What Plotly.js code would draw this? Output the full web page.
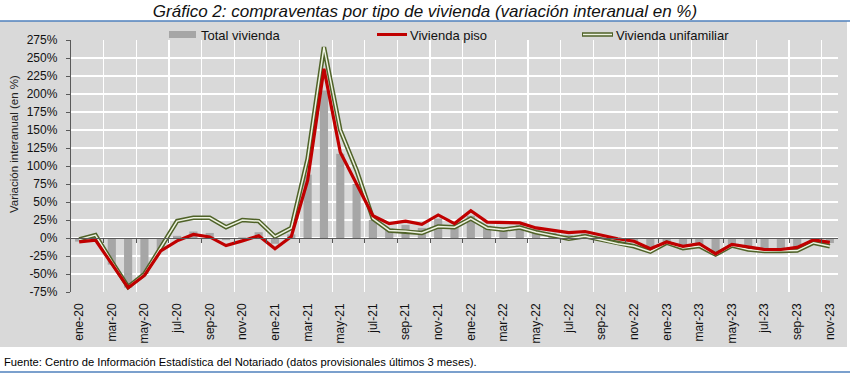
<!DOCTYPE html>
<html><head><meta charset="utf-8">
<script src="https://cdn.plot.ly/plotly-3.0.1.min.js"></script>
<style>html,body{margin:0;padding:0;background:#fff}#chart{width:850px;height:374px}</style>
</head><body><div id="chart"></div>
<script>
const months = ['ene-20','feb-20','mar-20','abr-20','may-20','jun-20','jul-20','ago-20','sep-20','oct-20','nov-20','dic-20',
  'ene-21','feb-21','mar-21','abr-21','may-21','jun-21','jul-21','ago-21','sep-21','oct-21','nov-21','dic-21',
  'ene-22','feb-22','mar-22','abr-22','may-22','jun-22','jul-22','ago-22','sep-22','oct-22','nov-22','dic-22',
  'ene-23','feb-23','mar-23','abr-23','may-23','jun-23','jul-23','ago-23','sep-23','oct-23','nov-23'];
const totalVivienda = [-5, 1, -37, -69, -50, -16, 3, 9, 7, -3, 1, 8,
  -8, 5, 88, 205, 117, 75, 25, 13, 18, 14, 27, 17,
  31, 17, 15, 18, 12, 7, 4, 6, 1, -3, -6, -16,
  -8, -16, -12, -22, -13, -15, -17, -16, -13, -3, -7];
const viviendaPiso = [-5.5, -3, -36, -69, -52, -18, -4, 5, 1.5, -10.5, -4, 3,
  -15, 2, 80, 235, 119, 75, 31, 20, 23.5, 19, 32, 20,
  38, 22, 21, 21, 14, 10.5, 7.5, 9, 3.5, -1, -4.5, -15,
  -5.5, -11.5, -8, -22, -9, -13, -16, -16, -13, -2.5, -6];
const viviendaUnifamiliar = [-2, 4, -33, -68, -50, -13, 23.5, 28, 28, 15, 25, 23.5,
  2, 14, 110, 265, 150, 94, 27, 10.5, 9.5, 7, 16, 15,
  27, 14, 11.5, 14.5, 8, 3.5, -1, 2.5, -2.5, -8, -11.5, -19,
  -6.5, -14, -11, -23, -10.5, -16, -18, -18, -17.5, -6.5, -11.5];
const seriesNames = ['Total vivienda', 'Vivienda piso', 'Vivienda unifamiliar'];
const yTickVals = [-75, -50, -25, 0, 25, 50, 75, 100, 125, 150, 175, 200, 225, 250, 275];
const yRange = [-75, 275];
const titleText = 'Gráfico 2: compraventas por tipo de vivienda (variación interanual en %)';
const yTitleText = 'Variación interanual (en %)';
const sourceText = 'Fuente: Centro de Información Estadística del Notariado (datos provisionales últimos 3 meses).';

const W = 850, H = 374, M = {l: 71, r: 12, t: 40, b: 82};
const PW = W - M.l - M.r, PH = H - M.t - M.b;
const px = v => (v - M.l) / PW;
const py = v => (H - M.b - v) / PH;

const xIdx = months.map((m, i) => i);
const tickIdx = xIdx.filter(i => i % 2 === 0);
const tickText = tickIdx.map(i => months[i]);
const boundaryVals = xIdx.filter(i => i % 2 === 1 && i < months.length - 1).map(i => i + 0.5);

const FONT = 'Liberation Sans, Arial, sans-serif';
const DARK_GREEN = '#4f6228', LIGHT_GREEN = '#eef3e2', RED = '#c00000', BAR = '#a6a6a6', AX = '#595959';

const traces = [
  {type: 'bar', name: seriesNames[0], x: xIdx, y: totalVivienda, marker: {color: BAR, line: {width: 0}}, showlegend: false},
  {type: 'scatter', mode: 'lines', name: seriesNames[2], x: xIdx, y: viviendaUnifamiliar, line: {color: DARK_GREEN, width: 4.5}, showlegend: false},
  {type: 'scatter', mode: 'lines', name: seriesNames[2] + ' ', x: xIdx, y: viviendaUnifamiliar, line: {color: LIGHT_GREEN, width: 1.5}, showlegend: false},
  {type: 'scatter', mode: 'lines', name: seriesNames[1], x: xIdx, y: viviendaPiso, line: {color: RED, width: 3.2}, showlegend: false},
  {type: 'scatter', mode: 'lines', x: xIdx, y: xIdx.map(() => null), xaxis: 'x2', yaxis: 'y', showlegend: false, hoverinfo: 'skip'}
];

const shapes = [
  {type: 'rect', xref: 'paper', yref: 'paper', x0: px(0), x1: px(847), y0: py(347), y1: py(21), fillcolor: '#d9d9d9', line: {width: 0}, layer: 'below'},
  {type: 'line', xref: 'paper', yref: 'paper', x0: px(0), x1: px(850), y0: py(21), y1: py(21), line: {color: '#4f81bd', width: 1.5}},
  {type: 'line', xref: 'paper', yref: 'paper', x0: px(0), x1: px(850), y0: py(372), y1: py(372), line: {color: '#4f81bd', width: 1.5}},
  // legend symbols
  {type: 'rect', xref: 'paper', yref: 'paper', x0: px(169), x1: px(196), y0: py(38), y1: py(31), fillcolor: BAR, line: {width: 0}},
  {type: 'line', xref: 'paper', yref: 'paper', x0: px(377), x1: px(407), y0: py(34.5), y1: py(34.5), line: {color: RED, width: 3}},
  {type: 'line', xref: 'paper', yref: 'paper', x0: px(582), x1: px(613), y0: py(34.5), y1: py(34.5), line: {color: DARK_GREEN, width: 4.5}},
  {type: 'line', xref: 'paper', yref: 'paper', x0: px(583), x1: px(612), y0: py(34.5), y1: py(34.5), line: {color: LIGHT_GREEN, width: 1.5}}
];

const legFont = {family: FONT, size: 13, color: '#111'};
const annotations = [
  {xref: 'paper', yref: 'paper', x: px(199), y: py(35), xanchor: 'left', yanchor: 'middle', text: seriesNames[0], showarrow: false, font: legFont},
  {xref: 'paper', yref: 'paper', x: px(408), y: py(35), xanchor: 'left', yanchor: 'middle', text: seriesNames[1], showarrow: false, font: legFont},
  {xref: 'paper', yref: 'paper', x: px(614), y: py(35), xanchor: 'left', yanchor: 'middle', text: seriesNames[2], showarrow: false, font: legFont},
  {xref: 'paper', yref: 'paper', x: px(14), y: py(144), xanchor: 'center', yanchor: 'middle', textangle: -90, text: yTitleText, showarrow: false, font: {family: FONT, size: 11.5, color: '#222'}},
  {xref: 'paper', yref: 'paper', x: px(2), y: py(362), xanchor: 'left', yanchor: 'middle', text: sourceText, showarrow: false, font: {family: FONT, size: 11.2, color: '#000'}}
];

const layout = {
  width: W, height: H,
  margin: M,
  paper_bgcolor: '#ffffff',
  plot_bgcolor: '#d9d9d9',
  bargap: 0.5,
  showlegend: false,
  title: {text: '<i>' + titleText + '</i>', x: 0.5, xref: 'container', xanchor: 'center', y: 1 - 11 / H, yref: 'container', yanchor: 'middle',
    font: {family: FONT, size: 17, color: '#111'}},
  xaxis: {range: [-0.5, months.length - 0.5], tickmode: 'array', tickvals: tickIdx, ticktext: tickText, tickangle: -90,
    ticks: '', showgrid: false, zeroline: false, showline: false, automargin: false,
    tickfont: {family: FONT, size: 12, color: '#111'}, ticklabelstandoff: 8},
  xaxis2: {overlaying: 'x', anchor: 'free', position: (0 - yRange[0]) / (yRange[1] - yRange[0]), side: 'bottom',
    range: [-0.5, months.length - 0.5], tickmode: 'array', tickvals: boundaryVals, showticklabels: false,
    ticks: 'outside', ticklen: 4, tickcolor: AX, tickwidth: 1,
    showgrid: true, gridcolor: '#ffffff', gridwidth: 1.2, showline: true, linecolor: AX, linewidth: 1.2, zeroline: false, automargin: false},
  yaxis: {range: yRange, tickmode: 'array', tickvals: yTickVals, ticktext: yTickVals.map(v => v + '%'),
    ticks: 'outside', ticklen: 4, tickcolor: AX, showline: true, linecolor: AX, linewidth: 1.2,
    showgrid: true, gridcolor: '#ffffff', gridwidth: 1.2, zeroline: false, automargin: false,
    tickfont: {family: FONT, size: 12, color: '#111'}, ticklabelstandoff: 6},
  shapes: shapes,
  annotations: annotations
};

Plotly.newPlot('chart', traces, layout, {staticPlot: true, displayModeBar: false});
</script>
</body></html>
